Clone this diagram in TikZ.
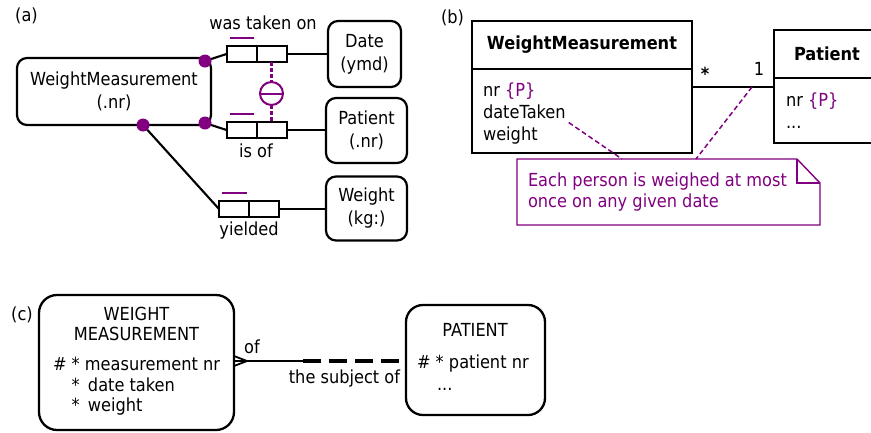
\documentclass[tikz,border=0pt]{standalone}
\usepackage{fontspec}
\setmainfont{DejaVu Sans}[FakeStretch=0.9]
\usetikzlibrary{calc}
\definecolor{ormp}{RGB}{128,0,128}
\begin{document}
\begin{tikzpicture}[x=1pt,y=-1pt,
  every node/.style={inner sep=0pt,outer sep=0pt},
  lbl/.style={font=\fontsize{18}{22}\selectfont,anchor=base},
  lblw/.style={font=\fontsize{18}{22}\selectfont,anchor=base west},
  ormbox/.style={draw,line width=2.2pt,rounded corners=10pt,align=center,font=\fontsize{18}{23}\selectfont},
  rolecell/.style={draw,line width=2pt,minimum width=30pt,minimum height=16pt},
  ln/.style={line width=2.1pt},
  rbar/.style={draw=ormp,line width=2.4pt},
  ormdash/.style={draw=ormp,line width=2.2pt,dash pattern=on 4pt off 2pt},
  classbox/.style={draw,line width=2.8pt,minimum width=#1},
  erbox/.style={draw,line width=2.3pt,rounded corners=18pt},
  notedash/.style={draw=ormp,line width=1.5pt,dash pattern=on 5pt off 3pt},
]
\useasboundingbox (0,0) rectangle (871,432);
\clip (0,0) rectangle (871,432);

% ---------------- panel (a)
\node[lbl] (la) at (26.5,21.5) {(a)};
\node[ormbox,minimum width=194pt,minimum height=67pt] (wm) at (114,91.5) {WeightMeasurement\\(.nr)};
\node[ormbox,minimum width=73pt,minimum height=66pt] (date) at (364.5,54) {Date\\(ymd)};
\node[ormbox,minimum width=81pt,minimum height=65pt] (pat) at (366.5,130.5) {Patient\\(.nr)};
\node[ormbox,minimum width=81pt,minimum height=64pt] (wt) at (366.5,208.5) {Weight\\(kg:)};

\node[rolecell] (r1a) at (241.5,54) {};
\node[rolecell] (r1b) at (271.5,54) {};
\node[rolecell] (r2a) at (241.5,130) {};
\node[rolecell] (r2b) at (271.5,130) {};
\node[rolecell] (r3a) at (234,209) {};
\node[rolecell] (r3b) at (264,209) {};

\draw[rbar] ($(r1a.north west)+(3,-8)$) -- ($(r1a.north east)+(-3,-8)$);
\draw[rbar] ($(r2a.north west)+(3,-8)$) -- ($(r2a.north east)+(-3,-8)$);
\draw[rbar] ($(r3a.north west)+(3,-8)$) -- ($(r3a.north east)+(-2,-8)$);

\node[lbl] (l1) at (263,29) {was taken on};
\node[lbl] (l2) at (256,157) {is of};
\node[lbl] (l3) at (249,235) {yielded};

\coordinate (d1) at (205,61);
\coordinate (d2) at (205,123);
\coordinate (d3) at (143,125);

\draw[ln] (d1) -- (r1a.west);
\draw[ln] (d2) -- (r2a.west);
\draw[ln] (d3) -- (r3a.west);
\draw[ln] (r1b.east) -- (r1b.east -| date.west);
\draw[ln] (r2b.east) -- (r2b.east -| pat.west);
\draw[ln] (r3b.east) -- (r3b.east -| wt.west);

\fill[ormp] (d1) circle[radius=6.5pt];
\fill[ormp] (d2) circle[radius=6.5pt];
\fill[ormp] (d3) circle[radius=6.5pt];

\node[draw=ormp,circle,line width=2pt,minimum size=23pt] (xc) at (271.5,93.5) {};
\draw[draw=ormp,line width=2pt] (xc.west) -- (xc.east);
\draw[ormdash] (r1b.south) -- (xc.north);
\draw[ormdash] (xc.south) -- (r2b.north);

% ---------------- panel (b)
\node[lbl] (lb) at (452.5,23) {(b)};
\node[classbox=220pt,minimum height=48pt,font=\bfseries\fontsize{18}{22}\selectfont] (wmt) at (582,45) {WeightMeasurement};
\node[classbox=220pt,minimum height=84pt] (wmb) at (582,111) {};
\node[lblw] (at1) at (483,96.5) {nr {\color{ormp}\{P\}}};
\node[lblw] (at2) at (483,118.5) {dateTaken};
\node[lblw] (at3) at (483,140.5) {weight};

\node[classbox=106pt,minimum height=48pt,font=\bfseries\fontsize{18}{22}\selectfont] (pt) at (827,54) {Patient};
\node[classbox=106pt,minimum height=65pt] (pb) at (827,110.5) {};
\node[lblw] (pa1) at (786,106.5) {nr {\color{ormp}\{P\}}};
\node[lblw] (pa2) at (786,128) {...};

\coordinate (as1) at ($(wmb.north east)+(0,18)$);
\coordinate (as2) at ($(pb.north west)+(0,9)$);
\draw[line width=2.1pt] (as1) -- (as2);
\node[font=\bfseries\fontsize{18}{22}\selectfont] (mstar) at (705,74) {*};
\node[lbl] (mone) at (759,75) {1};

\coordinate (nA) at (517,159);
\coordinate (nB) at (797,159);
\coordinate (nC) at (820,183);
\coordinate (nD) at (820,225);
\coordinate (nE) at (517,225);
\coordinate (nF) at (797,183);
\draw[ormp,line width=1.4pt] (nA) -- (nB) -- (nC) -- (nD) -- (nE) -- cycle;
\draw[ormp,line width=1.4pt] (nB) -- (nF) -- (nC);
\node[lblw,text=ormp] (nt1) at (528,186.5) {Each person is weighed at most};
\node[lblw,text=ormp] (nt2) at (528,207.5) {once on any given date};

\coordinate (nT1) at (622,159);
\coordinate (nT2) at (696,159);
\coordinate (asc) at (752,87);
\draw[notedash] ($(at2.base east)+(3,4)$) -- (nT1);
\draw[notedash] (asc) -- (nT2);

% ---------------- panel (c)
\node[lbl] (lc) at (22,320) {(c)};
\node[erbox,minimum width=195pt,minimum height=135pt] (wme) at (136.5,362.5) {};
\node[lbl] (wmt1) at (136.5,320) {WEIGHT};
\node[lbl] (wmt2) at (136.5,340) {MEASUREMENT};
\node[lblw] (wa1) at (53,370) {\# * measurement nr};
\node[lblw] (wa2) at (53,391) {\phantom{\#} * \,date taken};
\node[lblw] (wa3) at (53,411.5) {\phantom{\#} * \,weight};

\node[erbox,minimum width=139pt,minimum height=110pt,rounded corners=17pt] (pate) at (475.5,360) {};
\node[lbl] (pt1) at (475,336.5) {PATIENT};
\node[lblw] (pt2) at (417,368) {\# * patient nr};
\node[lblw] (pt3) at (437,390) {...};

\coordinate (cfT) at (247,361);
\coordinate (cfM) at (303,361);
\draw[line width=1.8pt] ($(wme.east |- cfT)+(0,-5)$) -- (cfT) -- ($(wme.east |- cfT)+(0,5)$);
\draw[line width=1.8pt] (wme.east |- cfT) -- (cfM);
\draw[line width=3.8pt,dash pattern=on 18pt off 8pt] (cfM) -- (pate.west |- cfM);
\node[lbl] (lof) at (252,353) {of};
\node[lbl] (lsub) at (344.5,383) {the subject of};
\end{tikzpicture}
\end{document}
